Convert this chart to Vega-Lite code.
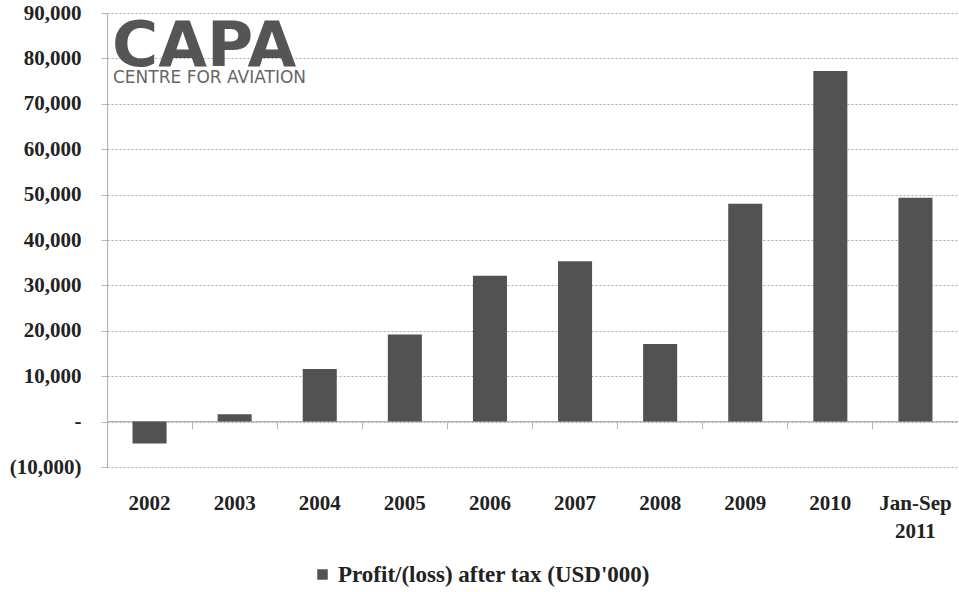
{
  "$schema": "https://vega.github.io/schema/vega-lite/v6.json",
  "width": 851,
  "height": 454,
  "autosize": {"type": "none"},
  "padding": {"left": 107, "top": 13, "right": 1, "bottom": 125},
  "config": {"view": {"stroke": null}, "font": "Liberation Serif"},
  "data": {
    "values": [
      {"period": "2002", "profit": -4800, "series": "Profit/(loss) after tax (USD'000)"},
      {"period": "2003", "profit": 1600, "series": "Profit/(loss) after tax (USD'000)"},
      {"period": "2004", "profit": 11600, "series": "Profit/(loss) after tax (USD'000)"},
      {"period": "2005", "profit": 19200, "series": "Profit/(loss) after tax (USD'000)"},
      {"period": "2006", "profit": 32100, "series": "Profit/(loss) after tax (USD'000)"},
      {"period": "2007", "profit": 35300, "series": "Profit/(loss) after tax (USD'000)"},
      {"period": "2008", "profit": 17100, "series": "Profit/(loss) after tax (USD'000)"},
      {"period": "2009", "profit": 48000, "series": "Profit/(loss) after tax (USD'000)"},
      {"period": "2010", "profit": 77200, "series": "Profit/(loss) after tax (USD'000)"},
      {"period": "Jan-Sep 2011", "profit": 49300, "series": "Profit/(loss) after tax (USD'000)"}
    ]
  },
  "resolve": {"axis": {"x": "independent"}},
  "layer": [
    {
      "mark": {"type": "bar", "opacity": 0},
      "encoding": {
        "x": {
          "field": "period", "type": "nominal", "sort": null,
          "scale": {"paddingInner": 0, "paddingOuter": 0},
          "axis": {"orient": "bottom", "offset": -45.4, "title": null, "labels": false, "domain": false,
                   "ticks": true, "tickSize": 7, "tickColor": "#b5b5b5", "bandPosition": 0, "grid": false}
        }
      }
    },
    {
      "data": {"values": [{}]},
      "mark": {"type": "rule", "color": "#b5b5b5", "strokeWidth": 1.2},
      "encoding": {"y": {"datum": 0}}
    },
    {
      "mark": {"type": "bar", "width": {"band": 0.4}},
      "encoding": {
        "x": {
          "field": "period", "type": "nominal", "sort": null,
          "scale": {"paddingInner": 0, "paddingOuter": 0},
          "axis": {"orient": "bottom", "title": null, "domain": false, "ticks": false, "labelAngle": 0,
                   "labelFont": "Liberation Serif", "labelFontWeight": "bold", "labelFontSize": 21,
                   "labelColor": "#222222", "labelPadding": 25, "labelLineHeight": 28,
                   "labelExpr": "datum.label == 'Jan-Sep 2011' ? ['Jan-Sep', '2011'] : datum.label"}
        },
        "y": {
          "field": "profit", "type": "quantitative",
          "scale": {"domain": [-10000, 90000], "nice": false},
          "axis": {
            "title": null,
            "values": [-10000, 0, 10000, 20000, 30000, 40000, 50000, 60000, 70000, 80000, 90000],
            "labelExpr": "datum.value == 0 ? '-' : (datum.value < 0 ? '(' + format(-datum.value, ',') + ')' : format(datum.value, ','))",
            "labelFont": "Liberation Serif", "labelFontWeight": "bold", "labelFontSize": 21,
            "labelColor": "#222222", "labelPadding": 20,
            "domain": true, "domainColor": "#b5b5b5", "domainWidth": 1.2,
            "ticks": true, "tickSize": 6, "tickColor": "#b5b5b5",
            "grid": true, "gridColor": "#aaaaaa", "gridDash": [2, 2], "gridWidth": 1
          }
        },
        "color": {
          "field": "series", "type": "nominal",
          "scale": {"range": ["#525252"]},
          "legend": {
            "title": null, "orient": "none", "legendX": 204, "legendY": 550,
            "symbolType": "square", "symbolSize": 110, "symbolStrokeWidth": 0,
            "labelFont": "Liberation Serif", "labelFontWeight": "bold", "labelFontSize": 23,
            "labelColor": "#222222", "labelOffset": 4, "labelLimit": 500
          }
        }
      }
    },
    {
      "data": {"values": [{}]},
      "mark": {"type": "text", "align": "left", "baseline": "alphabetic", "font": "DejaVu Sans",
               "fontWeight": "bold", "fontSize": 63, "color": "#555555", "dx": 5},
      "encoding": {
        "x": {"datum": "2002", "bandPosition": 0, "axis": null},
        "y": {"datum": 78350},
        "text": {"value": "CAPA"}
      }
    },
    {
      "data": {"values": [{}]},
      "mark": {"type": "text", "align": "left", "baseline": "alphabetic", "font": "DejaVu Sans",
               "fontSize": 17, "color": "#666666", "dx": 6},
      "encoding": {
        "x": {"datum": "2002", "bandPosition": 0, "axis": null},
        "y": {"datum": 74600},
        "text": {"value": "CENTRE FOR AVIATION"}
      }
    }
  ]
}
